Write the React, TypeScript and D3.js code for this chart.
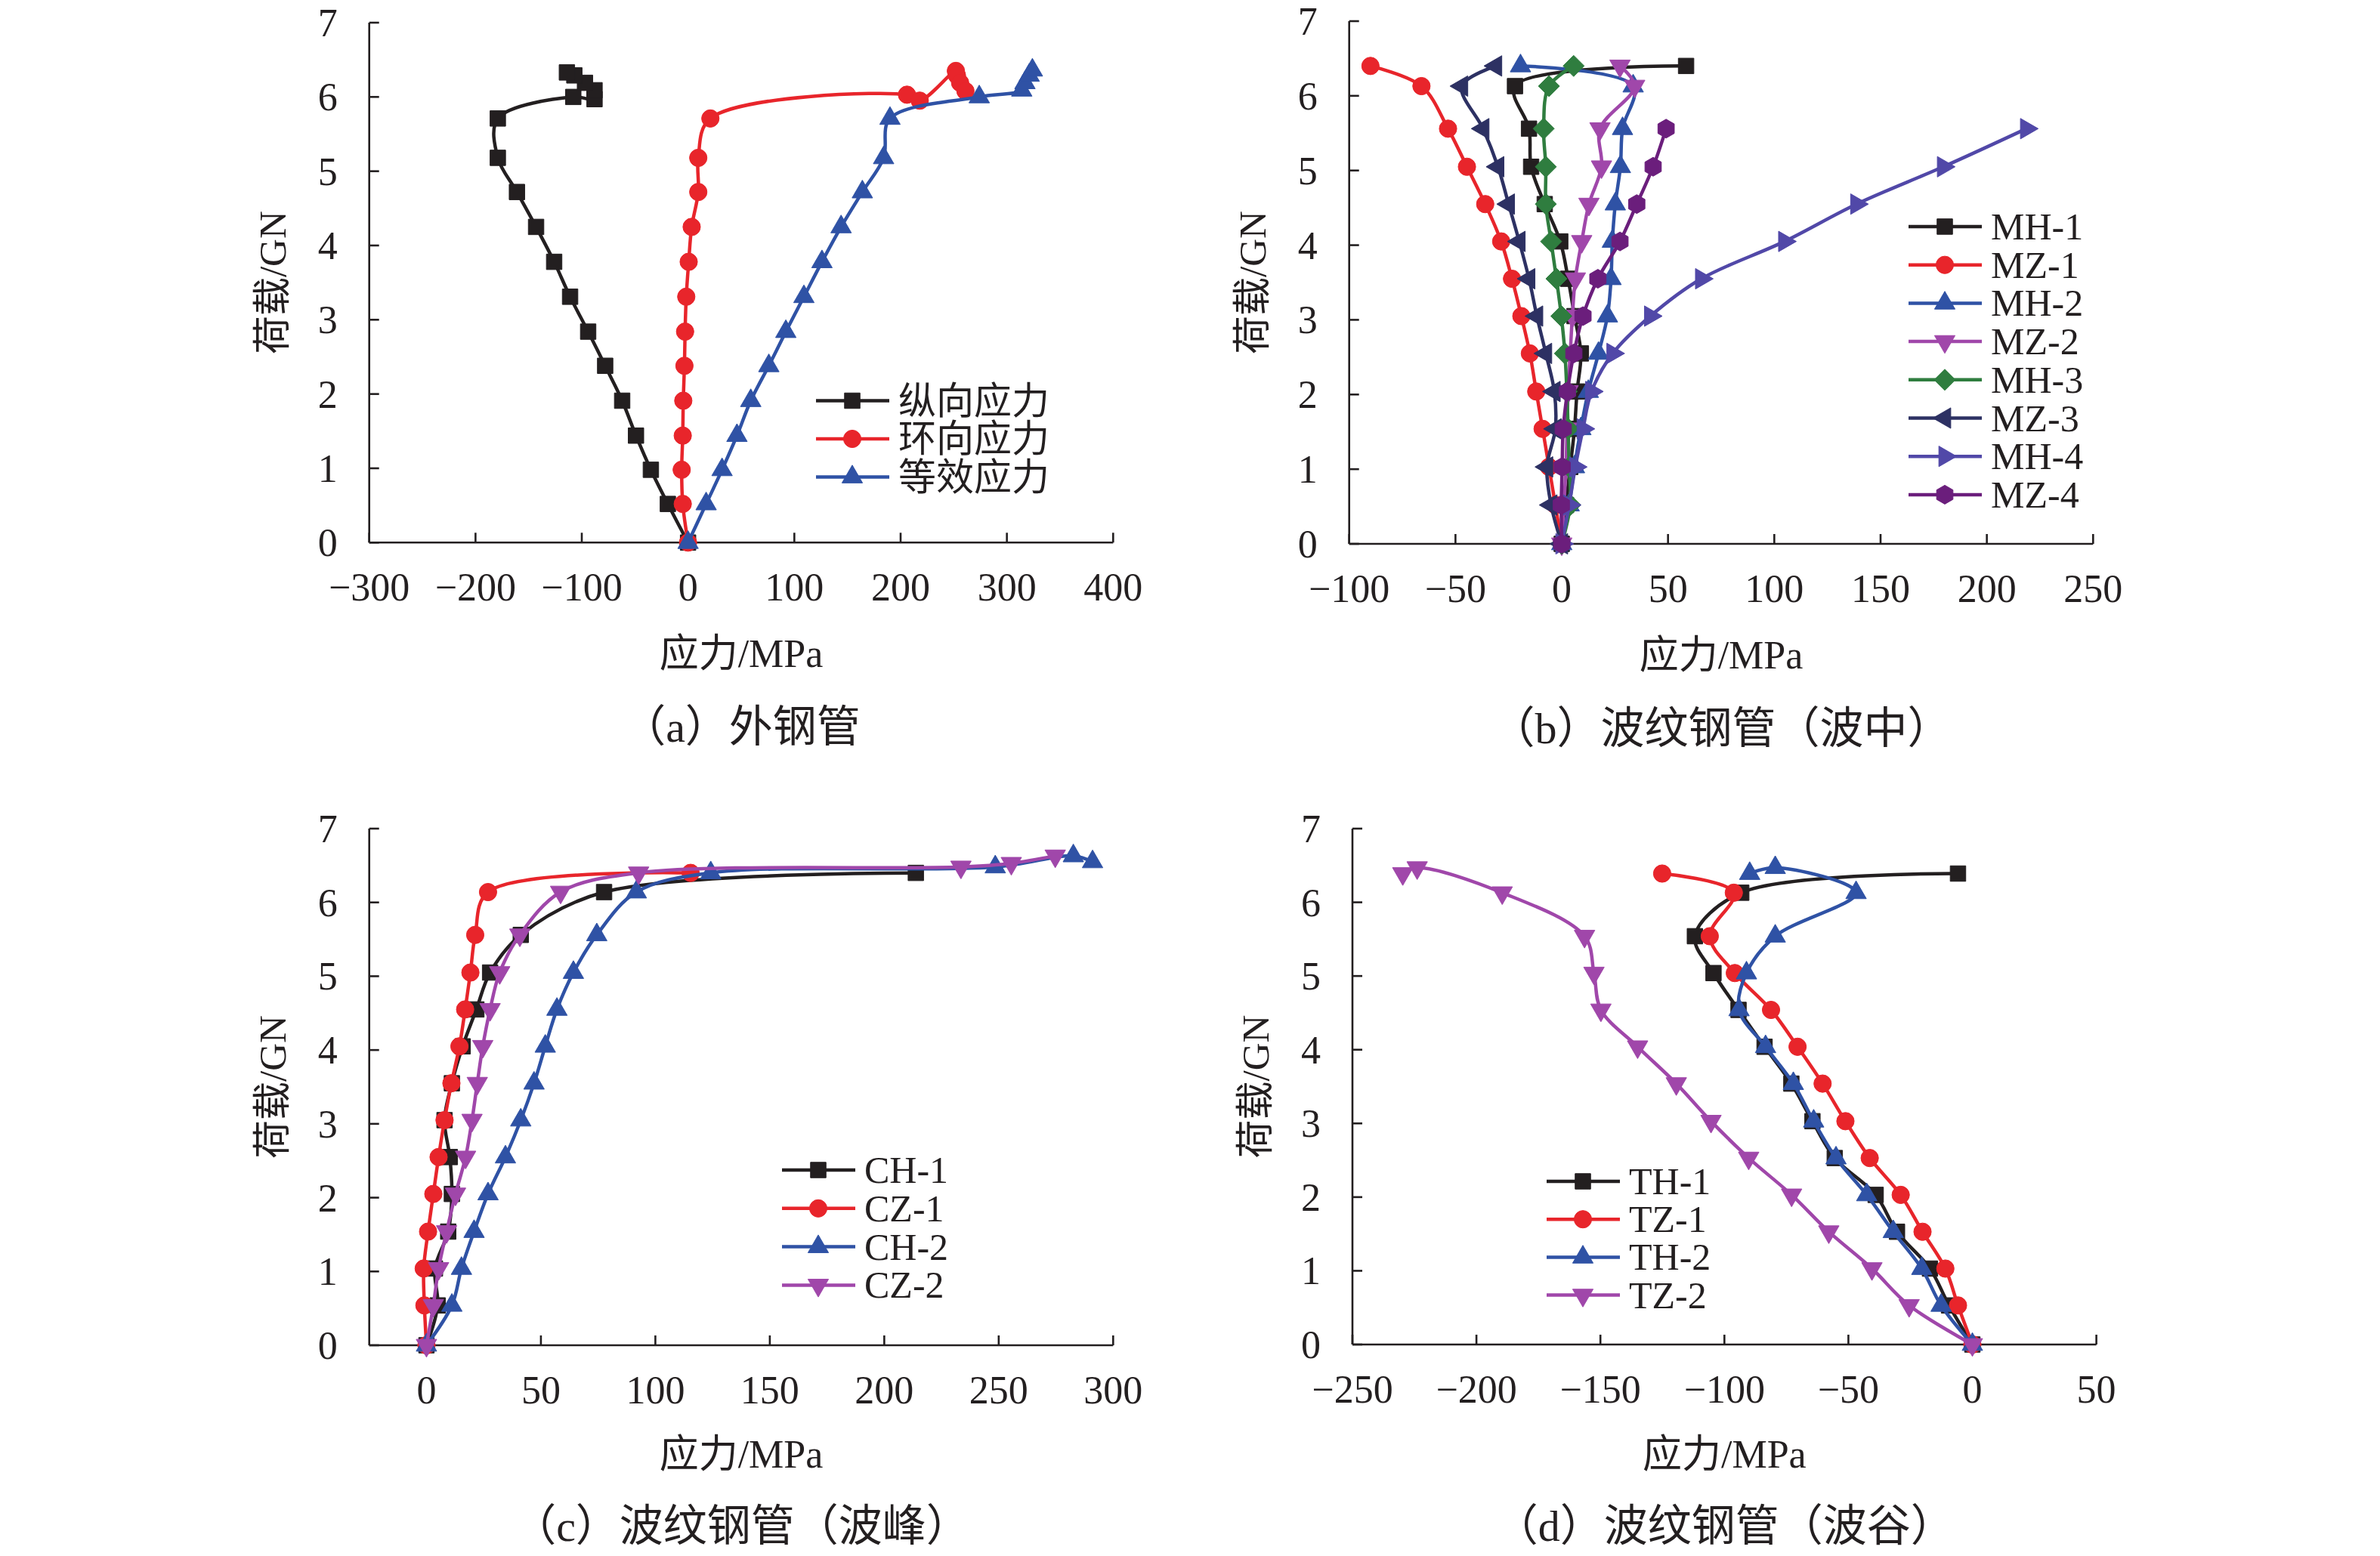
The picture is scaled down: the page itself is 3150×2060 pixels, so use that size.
import * as d3 from "d3";

const FONT = "'Liberation Serif', 'Noto Sans CJK SC', serif";
const INK = "#231f20";
const PLOT_W = 984.6;

// tick labels
const yTicks = [0, 1, 2, 3, 4, 5, 6, 7];
const xTicksA = [-300, -200, -100, 0, 100, 200, 300, 400];
const xTicksB = [-100, -50, 0, 50, 100, 150, 200, 250];
const xTicksC = [0, 50, 100, 150, 200, 250, 300];
const xTicksD = [-250, -200, -150, -100, -50, 0, 50];

// (a) outer steel tube
const loadA = [0, 0.52, 0.98, 1.44, 1.91, 2.38, 2.84, 3.31, 3.78, 4.25, 4.72, 5.18, 5.71];
const aLongStress = [0, -19, -35, -49, -62, -78, -94, -111, -126, -143, -161, -179, -179, -108, -88, -88, -97, -107, -114];
const aLongLoad = [...loadA, 6.0, 5.97, 6.09, 6.19, 6.29, 6.33];
const aHoopStress = [0, -5, -6, -5, -4.5, -3.4, -2.8, -1.7, 0.6, 3.4, 9.6, 9.6, 21, 206, 218, 252, 253, 256, 261];
const aHoopLoad = [...loadA, 6.03, 5.95, 6.35, 6.29, 6.19, 6.08];
const aEqStress = [0, 17, 32, 46, 59, 76, 92, 109, 126, 144, 164, 184, 190, 274, 314, 317, 321, 324];
const aEqLoad = [...loadA, 6.0, 6.09, 6.19, 6.29, 6.36];

// (b) corrugated tube, mid-wave
const loadB = [0, 0.52, 1.03, 1.54, 2.04, 2.55, 3.05, 3.55, 4.05, 4.55, 5.05, 5.56, 6.13, 6.4];
const mh1 = [0, 2, 4, 6, 7.2, 9, 6, 3, -0.7, -8, -14.4, -15.4, -22, 58.5];
const mz1 = [0, -3, -6, -9, -12, -15, -19, -23.4, -28.5, -36, -44.6, -53.5, -66, -90];
const mh2 = [0, 3.5, 6, 9, 12.5, 17.3, 21.5, 23.2, 23.8, 25.2, 27.6, 28.6, 33.6, -19.4];
const mz2 = [0, 1, 2, 2.5, 3, 4, 5, 6.4, 9.4, 12.8, 18.7, 18, 34.3, 27.4];
const mh3 = [0, 4, 3.5, 3, 2.4, 1.5, -0.2, -2.5, -5, -7.5, -7.5, -8.5, -6, 5.6];
const mz3 = [0, -5, -7, -3, -3.5, -7.5, -11.7, -15.4, -20, -25, -30, -37, -47, -31];
const mh4 = [0, 3.5, 6.4, 10, 14, 24, 41.7, 65.7, 104.8, 138.7, 179.5, 218.6];
const mz4 = [0, -0.2, 0.2, 0.7, 2.7, 5.7, 10, 17, 27.4, 35.3, 43, 49.1];

// (c) corrugated tube, crest
const loadC = [0, 0.54, 1.04, 1.54, 2.05, 2.55, 3.05, 3.55, 4.05, 4.55, 5.05, 5.56, 6.14, 6.4];
const ch1 = [0, 4.9, 3.7, 9.5, 11.1, 10.2, 7.9, 11.1, 15.8, 21.8, 27.8, 41.2, 77.6, 213.8];
const cz1 = [0, -0.9, -1.2, 0.7, 3, 5.3, 7.9, 10.9, 14.4, 16.9, 19.2, 21.3, 26.9, 115.4];
const ch2 = [0, 11.1, 15.3, 20.8, 26.9, 34.5, 41.2, 47, 51.9, 57, 64.2, 74.4, 91.7, 124.2, 248.5, 282.6, 291];
const ch2Load = [...loadC, 6.48, 6.63, 6.55];
const cz2 = [0, 3, 5.3, 8.8, 12.7, 17.1, 19.9, 22.2, 24.6, 27.8, 32, 40.8, 58.6, 92.7, 233.5, 255.5, 274.7];
const cz2Load = [...loadC, 6.48, 6.53, 6.63];

// (d) corrugated tube, trough
const loadD = [0, 0.53, 1.03, 1.53, 2.03, 2.53, 3.03, 3.54, 4.04, 4.54, 5.04, 5.54, 6.13, 6.39];
const th1 = [0, -9.4, -17.1, -30.4, -39, -55.5, -64.5, -73, -83.8, -94.3, -104.4, -111.9, -93.2, -5.8];
const tz1 = [0, -5.8, -10.9, -20.1, -28.9, -41.4, -51.2, -60.4, -70.5, -81.2, -95.8, -105.9, -96.2, -125.1];
const th2 = [0, -12.6, -20.4, -31.9, -42.6, -55, -64, -72.2, -83.4, -94.1, -91.1, -79.5, -46.9, -79.5, -89.8];
const th2Load = [...loadD.slice(0, 13), 6.47, 6.39];
const tz2 = [0, -25.5, -40.5, -57.9, -72.9, -90.2, -105.4, -119.4, -135, -149.8, -152.6, -156.4, -189.6, -223.9, -229.7];
const tz2Load = [...loadD.slice(0, 13), 6.47, 6.39];

type Shape = "square" | "circle" | "up" | "down" | "left" | "right" | "diamond" | "hexagon";

interface Series {
  name: string;
  stress: number[];
  load: number[];
  color: string;
  shape: Shape;
}

const C = {
  black: "#231f20",
  red: "#e8252b",
  blue: "#2f52a5",
  magenta: "#a047aa",
  green: "#2f7d3f",
  navy: "#2d3163",
  violet: "#5148a8",
  purple: "#6b1e7c",
};

const hexPath = (() => {
  const r = 12.5;
  const pts = d3.range(6).map((i) => {
    const a = (Math.PI / 3) * i - Math.PI / 2;
    return [r * Math.cos(a), r * Math.sin(a)];
  });
  return "M" + pts.map((p) => p.join(",")).join("L") + "Z";
})();

function markerShape(shape: Shape): { d: string; rot: number } {
  switch (shape) {
    case "square":
      return { d: d3.symbol(d3.symbolSquare, 420)() as string, rot: 0 };
    case "circle":
      return { d: d3.symbol(d3.symbolCircle, 420)() as string, rot: 0 };
    case "diamond":
      return { d: "M0,-14L14,0L0,14L-14,0Z", rot: 0 };
    case "hexagon":
      return { d: hexPath, rot: 0 };
    default: {
      const rot = { up: 0, down: 180, right: 90, left: -90 }[shape];
      return { d: d3.symbol(d3.symbolTriangle, 320)() as string, rot };
    }
  }
}

function Marker({ x, y, shape, color }: { x: number; y: number; shape: Shape; color: string }) {
  const m = markerShape(shape);
  return <path d={m.d} transform={`translate(${x},${y}) rotate(${m.rot})`} fill={color} stroke={color} strokeWidth={1} strokeLinejoin="round" />;
}

const fmt = d3.format("d");

interface PanelProps {
  left: number;
  top: number;
  bottom: number;
  xDomain: [number, number];
  xTicks: number[];
  series: Series[];
  legendX: number;
  legendY: number;
  legendDy: number;
  caption: string;
  titleY: number;
  captionY: number;
}

function Panel({ left, top, bottom, xDomain, xTicks, series, legendX, legendY, legendDy, caption, titleY, captionY }: PanelProps) {
  const x = d3.scaleLinear().domain(xDomain).range([left, left + PLOT_W]);
  const y = d3.scaleLinear().domain([0, 7]).range([bottom, top]);
  const line = d3
    .line<[number, number]>()
    .x((d) => x(d[0]))
    .y((d) => y(d[1]))
    .curve(d3.curveCatmullRom.alpha(0.5));
  const cx = left + PLOT_W / 2;

  return (
    <g fontFamily={FONT} fill={INK}>
      {/* axes */}
      <line x1={left} x2={left + PLOT_W} y1={bottom} y2={bottom} stroke={INK} strokeWidth={2.6} />
      <line x1={left} x2={left} y1={top} y2={bottom} stroke={INK} strokeWidth={2.6} />
      {xTicks.map((t) => (
        <g key={"x" + t}>
          <line x1={x(t)} x2={x(t)} y1={bottom} y2={bottom - 13} stroke={INK} strokeWidth={2.6} />
          <text x={x(t)} y={bottom + 77} fontSize={52} textAnchor="middle">
            {fmt(t)}
          </text>
        </g>
      ))}
      {yTicks.map((t) => (
        <g key={"y" + t}>
          <line x1={left} x2={left + 13} y1={y(t)} y2={y(t)} stroke={INK} strokeWidth={2.6} />
          <text x={left - 42} y={y(t) + 18} fontSize={52} textAnchor="end">
            {fmt(t)}
          </text>
        </g>
      ))}
      <text x={cx} y={titleY} fontSize={52} textAnchor="middle" dominantBaseline="central">
        应力/MPa
      </text>
      <text
        transform={`translate(${left - 128},${(top + bottom) / 2}) rotate(-90)`}
        fontSize={51}
        textAnchor="middle"
        dominantBaseline="central"
      >
        荷载/GN
      </text>
      <text x={cx} y={captionY} fontSize={58} textAnchor="middle" dominantBaseline="central">
        {caption}
      </text>

      {/* series */}
      {series.map((s) => {
        const pts = s.stress.map((v, i) => [v, s.load[i]] as [number, number]);
        return (
          <g key={s.name}>
            <path d={line(pts) as string} fill="none" stroke={s.color} strokeWidth={4.5} />
            {pts.map((p, i) => (
              <Marker key={i} x={x(p[0])} y={y(p[1])} shape={s.shape} color={s.color} />
            ))}
          </g>
        );
      })}

      {/* legend */}
      {series.map((s, i) => {
        const ly = legendY + i * legendDy;
        return (
          <g key={"lg" + s.name}>
            <line x1={legendX} x2={legendX + 97} y1={ly} y2={ly} stroke={s.color} strokeWidth={4.5} />
            <Marker x={legendX + 48} y={ly} shape={s.shape} color={s.color} />
            <text x={legendX + 109} y={ly} fontSize={50} dominantBaseline="central">
              {s.name}
            </text>
          </g>
        );
      })}
    </g>
  );
}

const seriesA: Series[] = [
  { name: "纵向应力", stress: aLongStress, load: aLongLoad, color: C.black, shape: "square" },
  { name: "环向应力", stress: aHoopStress, load: aHoopLoad, color: C.red, shape: "circle" },
  { name: "等效应力", stress: aEqStress, load: aEqLoad, color: C.blue, shape: "up" },
];

const seriesB: Series[] = [
  { name: "MH-1", stress: mh1, load: loadB, color: C.black, shape: "square" },
  { name: "MZ-1", stress: mz1, load: loadB, color: C.red, shape: "circle" },
  { name: "MH-2", stress: mh2, load: loadB, color: C.blue, shape: "up" },
  { name: "MZ-2", stress: mz2, load: loadB, color: C.magenta, shape: "down" },
  { name: "MH-3", stress: mh3, load: loadB, color: C.green, shape: "diamond" },
  { name: "MZ-3", stress: mz3, load: loadB, color: C.navy, shape: "left" },
  { name: "MH-4", stress: mh4, load: loadB, color: C.violet, shape: "right" },
  { name: "MZ-4", stress: mz4, load: loadB, color: C.purple, shape: "hexagon" },
];

const seriesC: Series[] = [
  { name: "CH-1", stress: ch1, load: loadC, color: C.black, shape: "square" },
  { name: "CZ-1", stress: cz1, load: loadC, color: C.red, shape: "circle" },
  { name: "CH-2", stress: ch2, load: ch2Load, color: C.blue, shape: "up" },
  { name: "CZ-2", stress: cz2, load: cz2Load, color: C.magenta, shape: "down" },
];

const seriesD: Series[] = [
  { name: "TH-1", stress: th1, load: loadD, color: C.black, shape: "square" },
  { name: "TZ-1", stress: tz1, load: loadD, color: C.red, shape: "circle" },
  { name: "TH-2", stress: th2, load: th2Load, color: C.blue, shape: "up" },
  { name: "TZ-2", stress: tz2, load: tz2Load, color: C.magenta, shape: "down" },
];

export default function App() {
  return (
    <div style={{ position: "absolute", left: 0, top: 0, background: "#fff" }}>
      <svg width={3150} height={2060} viewBox="0 0 3150 2060" style={{ display: "block" }}>
        <rect width={3150} height={2060} fill="#fff" />
        <Panel
          left={488.7} top={30} bottom={718.3} xDomain={[-300, 400]} xTicks={xTicksA}
          series={seriesA} legendX={1080} legendY={530.5} legendDy={50.5}
          caption="（a）外钢管" titleY={865} captionY={962}
        />
        <Panel
          left={1785.7} top={28} bottom={720} xDomain={[-100, 250]} xTicks={xTicksB}
          series={seriesB} legendX={2526} legendY={300} legendDy={50.7}
          caption="（b）波纹钢管（波中）" titleY={867} captionY={964}
        />
        <Panel
          left={488.7} top={1097} bottom={1781} xDomain={[-25, 300]} xTicks={xTicksC}
          series={seriesC} legendX={1035} legendY={1549} legendDy={50.8}
          caption="（c）波纹钢管（波峰）" titleY={1925} captionY={2020}
        />
        <Panel
          left={1790} top={1097} bottom={1780} xDomain={[-250, 50]} xTicks={xTicksD}
          series={seriesD} legendX={2047} legendY={1564} legendDy={50.2}
          caption="（d）波纹钢管（波谷）" titleY={1925} captionY={2020}
        />
      </svg>
    </div>
  );
}
